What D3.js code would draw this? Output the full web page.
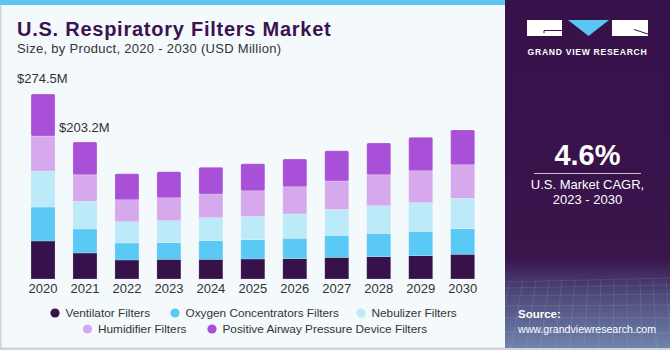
<!DOCTYPE html>
<html>
<head>
<meta charset="utf-8">
<script src="https://cdn.jsdelivr.net/npm/d3@7"></script>
<style>
  body { margin: 0; background: #fff; }
  svg { display: block; font-family: "Liberation Sans", Arial, sans-serif; }
</style>
</head>
<body>
<div id="wrapper"></div>
<script>
// data (USD million)
const years = ["2020","2021","2022","2023","2024","2025","2026","2027","2028","2029","2030"];
const ventilator = [56.4, 38.6, 28.2, 29.2, 29.2, 29.7, 30.1, 32.1, 33.1, 34.6, 36.7];
const oxygen     = [50.4, 35.7, 25.2, 24.8, 27.7, 28.6, 30.3, 32.6, 34.6, 36.1, 38.0];
const nebulizer  = [53.4, 41.1, 31.6, 32.6, 34.1, 34.6, 36.1, 38.6, 41.1, 42.6, 45.1];
const humidifier = [51.9, 39.1, 32.6, 34.1, 35.2, 38.1, 40.5, 42.1, 46.0, 47.5, 49.9];
const pap        = [62.4, 48.7, 38.6, 38.6, 39.6, 40.1, 41.1, 45.0, 47.0, 49.4, 51.5];
const seriesNames = ["Ventilator Filters", "Oxygen Concentrators Filters", "Nebulizer Filters",
                     "Humidifier Filters", "Positive Airway Pressure Device Filters"];
const seriesColors = ["#37114a", "#5bc9f6", "#bdeaf9", "#d6a9ec", "#a851d8"];
const totalLabels = [{year: "2020", text: "$274.5M"}, {year: "2021", text: "$203.2M"}];

const width = 670, height = 350;
const panelX = 505;

const svg = d3.select("#wrapper").append("svg")
    .attr("width", width)
    .attr("height", height);

// background + frame
svg.append("rect").attr("x", 0).attr("y", 0).attr("width", width).attr("height", height).attr("fill", "#f4f9fc");
svg.append("rect").attr("x", 0).attr("y", 0).attr("width", 1.5).attr("height", height).attr("fill", "#cfd3d6");
svg.append("rect").attr("x", 0).attr("y", 347.5).attr("width", width).attr("height", 2.5).attr("fill", "#cfd3d6");
svg.append("rect").attr("x", 0).attr("y", 0).attr("width", panelX).attr("height", 5).attr("fill", "#5cc6f2");

// right panel
const defs = svg.append("defs");
const grad = defs.append("linearGradient").attr("id", "pg").attr("x1", 0).attr("y1", 0).attr("x2", 0).attr("y2", 1);
grad.append("stop").attr("offset", "0").attr("stop-color", "#37114a");
grad.append("stop").attr("offset", "0.74").attr("stop-color", "#39154c");
grad.append("stop").attr("offset", "0.84").attr("stop-color", "#4c4677");
grad.append("stop").attr("offset", "1").attr("stop-color", "#6f84ad");
svg.append("rect").attr("x", panelX).attr("y", 0).attr("width", width - panelX).attr("height", 348).attr("fill", "url(#pg)");

// faint grid in the panel bottom
const grid = svg.append("g").attr("stroke", "#ffffff").attr("stroke-opacity", 0.12).attr("stroke-width", 0.8);
d3.range(0, 9).forEach(i => {
  const yy = 282 + i * i * 1.0 + i * 5;
  grid.append("line").attr("x1", panelX).attr("x2", width).attr("y1", yy).attr("y2", yy - 4 + i);
});
d3.range(0, 14).forEach(i => {
  const xx = panelX + i * 13;
  grid.append("line").attr("x1", xx + 5).attr("x2", xx - 8 + i * 1.5).attr("y1", 280).attr("y2", 348);
});

// logo
const logo = svg.append("g");
logo.append("rect").attr("x", 527).attr("y", 20).attr("width", 35).attr("height", 16).attr("fill", "#fff");
logo.append("path").attr("d", "M544,33 V30.5 H562").attr("fill", "none").attr("stroke", "#37114a").attr("stroke-width", 1);
logo.append("path").attr("d", "M568,20 H609 L588.5,36 Z").attr("fill", "#5cc6f2");
logo.append("rect").attr("x", 612).attr("y", 20).attr("width", 36).attr("height", 16).attr("fill", "#fff");
logo.append("path").attr("d", "M634,29.5 L648,34").attr("fill", "none").attr("stroke", "#37114a").attr("stroke-width", 1);
svg.append("text").attr("x", 587.5).attr("y", 55).attr("text-anchor", "middle")
    .attr("fill", "#fff").attr("font-size", 8.6).attr("font-weight", "bold").attr("letter-spacing", 0.7)
    .text("GRAND VIEW RESEARCH");

// CAGR block
svg.append("text").attr("x", 587.5).attr("y", 165).attr("text-anchor", "middle")
    .attr("fill", "#fff").attr("font-size", 29).attr("font-weight", "bold").text("4.6%");
svg.append("line").attr("x1", 534).attr("x2", 641).attr("y1", 173.5).attr("y2", 173.5)
    .attr("stroke", "#c9c3d0").attr("stroke-width", 1.2);
svg.append("text").attr("x", 587.5).attr("y", 189).attr("text-anchor", "middle")
    .attr("fill", "#fff").attr("font-size", 13).text("U.S. Market CAGR,");
svg.append("text").attr("x", 587.5).attr("y", 204).attr("text-anchor", "middle")
    .attr("fill", "#fff").attr("font-size", 13).text("2023 - 2030");
svg.append("text").attr("x", 518).attr("y", 318).attr("fill", "#fff")
    .attr("font-size", 11.5).attr("font-weight", "bold").text("Source:");
svg.append("text").attr("x", 518).attr("y", 332.5).attr("fill", "#fff")
    .attr("font-size", 11.3).attr("textLength", 138).attr("lengthAdjust", "spacingAndGlyphs")
    .text("www.grandviewresearch.com");

// titles
svg.append("text").attr("x", 17).attr("y", 36).attr("fill", "#3a1350")
    .attr("font-size", 20).attr("font-weight", "900").attr("letter-spacing", 0.75)
    .text("U.S. Respiratory Filters Market");
svg.append("text").attr("x", 17).attr("y", 53).attr("fill", "#333")
    .attr("font-size", 13).attr("letter-spacing", 0.3)
    .text("Size, by Product, 2020 - 2030 (USD Million)");

// scales
const xScale = d3.scaleBand()
    .domain(years)
    .range([31, 474.7])
    .paddingInner(0.428)
    .paddingOuter(0);

const yScale = d3.scaleLinear()
    .domain([0, 274.5])
    .range([279, 94]);

const table = years.map((y, i) => ({
  year: y,
  s0: ventilator[i], s1: oxygen[i], s2: nebulizer[i], s3: humidifier[i], s4: pap[i]
}));
const stack = d3.stack().keys(["s0", "s1", "s2", "s3", "s4"]);
const layers = stack(table);

const barG = svg.append("g");
layers.forEach((layer, li) => {
  barG.selectAll(null)
    .data(layer)
    .enter().append("rect")
    .attr("x", d => xScale(d.data.year))
    .attr("y", d => yScale(d[1]))
    .attr("width", xScale.bandwidth())
    .attr("height", d => yScale(d[0]) - yScale(d[1]))
    .attr("rx", li === 4 ? 1.5 : 0)
    .attr("fill", seriesColors[li])
    .attr("stroke", "#f4f9fc")
    .attr("stroke-opacity", 0.35)
    .attr("stroke-width", 0.6);
});

// x axis
const xAxis = svg.append("g")
    .attr("transform", "translate(0,279)")
    .call(d3.axisBottom(xScale).tickSize(0).tickPadding(5));
xAxis.select(".domain").remove();
xAxis.selectAll("text")
    .attr("font-family", "\"Liberation Sans\", Arial, sans-serif")
    .attr("font-size", 13)
    .attr("fill", "#333");

// total labels
const totals = years.map((y, i) => ventilator[i] + oxygen[i] + nebulizer[i] + humidifier[i] + pap[i]);
svg.append("text").attr("x", 17).attr("y", 83).attr("fill", "#333").attr("font-size", 13)
    .text(totalLabels[0].text);
svg.append("text")
    .attr("x", xScale(totalLabels[1].year) - 14)
    .attr("y", yScale(totals[1]) - 10)
    .attr("fill", "#333").attr("font-size", 13)
    .text(totalLabels[1].text);

// legend
const legendPos = [
  {cx: 55, y: 313}, {cx: 175, y: 313}, {cx: 361, y: 313},
  {cx: 87.5, y: 329}, {cx: 212, y: 329}
];
const legend = svg.append("g");
seriesNames.forEach((name, i) => {
  const p = legendPos[i];
  legend.append("circle").attr("cx", p.cx).attr("cy", p.y).attr("r", 4.6).attr("fill", seriesColors[i]);
  legend.append("text").attr("x", p.cx + 10.5).attr("y", p.y + 4.2)
      .attr("font-size", 11.8).attr("fill", "#333").text(name);
});
</script>
</body>
</html>
